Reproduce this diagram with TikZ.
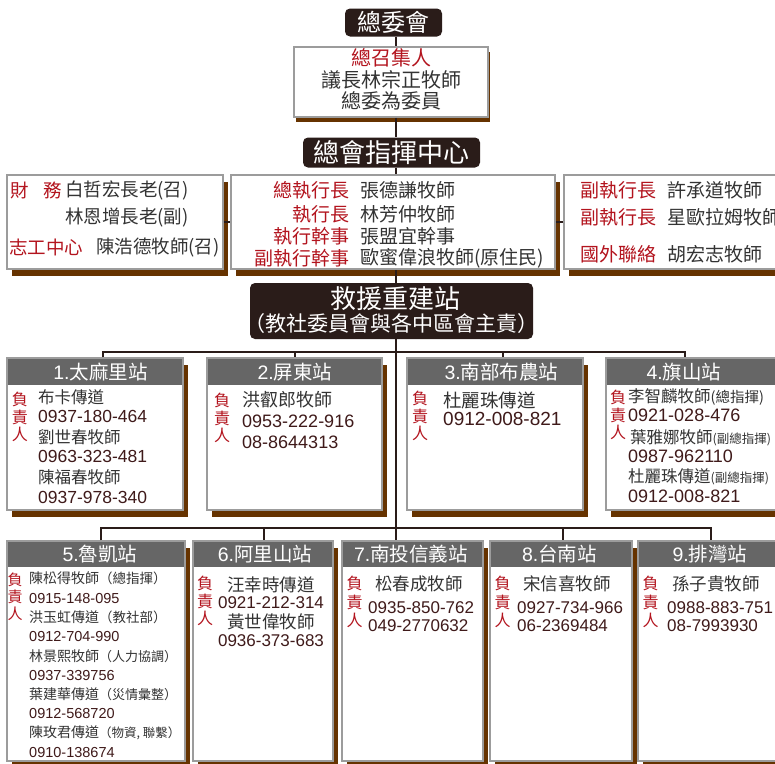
\documentclass[tikz,border=0pt]{standalone}
\usepackage{fontspec}
\setmainfont{Noto Sans CJK TC}
\newfontfamily\numfont{Liberation Sans}
\usetikzlibrary{shadows}
\definecolor{darkfill}{HTML}{2A1C19}
\definecolor{headgray}{HTML}{666666}
\definecolor{shadowbrown}{HTML}{663300}
\definecolor{boxline}{HTML}{9C9C9C}
\definecolor{labred}{HTML}{B3141E}
\definecolor{nametext}{HTML}{333333}
\definecolor{numtext}{HTML}{3F1A1A}
\newcommand{\fsz}[1]{\fontsize{#1}{#1}\selectfont}
\tikzstyle{titlebox}=[rectangle,fill=darkfill,text=white,rounded corners=5pt,inner sep=0pt]
\tikzstyle{infobox}=[rectangle,draw=boxline,fill=white,line width=1.5pt,inner sep=0pt,general shadow={fill=shadowbrown,shadow xshift=5pt,shadow yshift=-7pt}]
\tikzstyle{topbox}=[rectangle,draw=boxline,fill=white,line width=1.5pt,inner sep=0pt,general shadow={fill=shadowbrown,shadow xshift=2pt,shadow yshift=-5pt}]
\tikzstyle{headband}=[rectangle,fill=headgray,inner sep=0pt,minimum height=26pt]
\tikzstyle{headtext}=[text=white,inner sep=0pt,font=\fsz{19.5}]
\tikzstyle{conn}=[draw=darkfill,line width=2.6pt]
\tikzstyle{redtxt}=[text=labred,inner sep=0pt]
\tikzstyle{nametxt}=[text=nametext,inner sep=0pt,anchor=west]
\tikzstyle{phonetxt}=[text=numtext,inner sep=0pt,anchor=west]
\tikzstyle{leadtxt}=[text=labred,inner sep=0pt,align=center,font=\fontsize{16}{17.5}\selectfont]

\begin{document}
\begin{tikzpicture}[x=1pt,y=-1pt]
	\useasboundingbox (0,0) rectangle (775,763);
	\clip (0,0) rectangle (775,763);
	\fill[white] (0,0) rectangle (775,763);
	\coordinate (tk) at (396,0);

	% top of the tree
	\node[titlebox,minimum width=97pt,minimum height=28pt,font=\fsz{24}] (zwh) at (393.5,22.5) {總委會};
	\node[topbox,minimum width=194pt,minimum height=70pt] (zcj) at (391,82) {};
	\node[text=nametext,inner sep=0pt,align=center,font=\fontsize{20}{21.5}\selectfont] (zcjt) at (391,79.5)
		{{\color{labred}總召集人}\\議長林宗正牧師\\總委為委員};
	\node[titlebox,minimum width=177pt,minimum height=30pt,font=\fsz{26}] (zhq) at (391.5,152.5) {總會指揮中心};

	% command centre
	\node[infobox,minimum width=216pt,minimum height=94pt] (lft) at (115,222) {};
	\node[infobox,minimum width=324pt,minimum height=94pt] (mid) at (393,222) {};
	\node[infobox,minimum width=224pt,minimum height=94pt] (rgt) at (676,222) {};

	\node[redtxt,anchor=west,font=\fsz{18.5}] (cw) at (10,190) {財\hspace{.8em}務};
	\node[nametxt,font=\fsz{18.5}] (cw1) at (65,190) {白哲宏長老(召)};
	\node[nametxt,font=\fsz{18.5}] (cw2) at (65,218) {林恩增長老(副)};
	\node[redtxt,anchor=west,font=\fsz{18.5}] (zg) at (9,247.5) {志工中心};
	\node[nametxt,font=\fsz{18.5}] (zg1) at (96,247.5) {陳浩德牧師(召)};

	\node[redtxt,anchor=east,font=\fsz{19}] (m1) at (350,190.5) {總執行長};
	\node[redtxt,anchor=east,font=\fsz{19}] (m2) at (350,214.5) {執行長};
	\node[redtxt,anchor=east,font=\fsz{19}] (m3) at (350,236.5) {執行幹事};
	\node[redtxt,anchor=east,font=\fsz{19}] (m4) at (350,258.5) {副執行幹事};
	\node[nametxt,font=\fsz{19}] (m1n) at (360,190.5) {張德謙牧師};
	\node[nametxt,font=\fsz{19}] (m2n) at (360,214.5) {林芳仲牧師};
	\node[nametxt,font=\fsz{19}] (m3n) at (360,236.5) {張盟宜幹事};
	\node[nametxt,font=\fsz{19}] (m4n) at (360,258.5) {歐蜜偉浪牧師(原住民)};

	\node[redtxt,anchor=west,font=\fsz{19}] (q1) at (580,190.5) {副執行長};
	\node[redtxt,anchor=west,font=\fsz{19}] (q2) at (580,217.5) {副執行長};
	\node[redtxt,anchor=west,font=\fsz{19}] (q3) at (580,254.5) {國外聯絡};
	\node[nametxt,font=\fsz{19}] (q1n) at (667,190.5) {許承道牧師};
	\node[nametxt,font=\fsz{19}] (q2n) at (667,217.5) {星歐拉姆牧師};
	\node[nametxt,font=\fsz{19}] (q3n) at (667,254.5) {胡宏志牧師};

	% rescue stations
	\node[titlebox,minimum width=283pt,minimum height=56pt] (jy) at (391.5,311) {};
	\node[text=white,inner sep=0pt,font=\fsz{26}] (jyt) at (395,299) {救援重建站};
	\node[text=white,inner sep=0pt,font=\fsz{21}] (jys) at (391,324) {（教社委員會與各中區會主責）};

	\node[infobox,minimum width=176pt,minimum height=152pt] (st1) at (95,434) {};
	\node[infobox,minimum width=175pt,minimum height=152pt] (st2) at (294.5,434) {};
	\node[infobox,minimum width=176pt,minimum height=152pt] (st3) at (495,434) {};
	\node[infobox,minimum width=176pt,minimum height=152pt] (st4) at (694,434) {};
	\node[headband,minimum width=174.5pt] (h1) at (95,371.75) {};
	\node[headband,minimum width=173.5pt] (h2) at (294.5,371.75) {};
	\node[headband,minimum width=174.5pt] (h3) at (495,371.75) {};
	\node[headband,minimum width=174.5pt] (h4) at (694,371.75) {};
	\node[headtext] (h1l) at (100.5,372) {{\numfont 1.}太麻里站};
	\node[headtext] (h2l) at (295,372) {{\numfont 2.}屏東站};
	\node[headtext] (h3l) at (501.5,372) {{\numfont 3.}南部布農站};
	\node[headtext] (h4l) at (684,372) {{\numfont 4.}旗山站};

	\node[leadtxt] (r1) at (20,417) {負\\責\\人};
	\node[nametxt,font=\fsz{16.5}] (p11) at (38,397) {布卡傳道};
	\node[phonetxt,font=\numfont\fsz{17.5}] (p12) at (38,416) {0937-180-464};
	\node[nametxt,font=\fsz{16.5}] (p13) at (38,437) {劉世春牧師};
	\node[phonetxt,font=\numfont\fsz{17.5}] (p14) at (38,456) {0963-323-481};
	\node[nametxt,font=\fsz{16.5}] (p15) at (38,477) {陳福春牧師};
	\node[phonetxt,font=\numfont\fsz{17.5}] (p16) at (38,497) {0937-978-340};

	\node[leadtxt] (r2) at (222,418) {負\\責\\人};
	\node[nametxt,font=\fsz{18}] (p21) at (242,400) {洪叡郎牧師};
	\node[phonetxt,font=\numfont\fsz{18}] (p22) at (242,421) {0953-222-916};
	\node[phonetxt,font=\numfont\fsz{18}] (p23) at (242,442) {08-8644313};

	\node[leadtxt] (r3) at (420,416) {負\\責\\人};
	\node[nametxt,font=\fsz{18.5}] (p31) at (443,400) {杜麗珠傳道};
	\node[phonetxt,font=\numfont\fsz{19}] (p32) at (443,419) {0912-008-821};

	\node[leadtxt] (r4) at (618,415) {負\\責\\人};
	\node[nametxt,font=\fsz{16.5}] (p41) at (628,397) {李智麟牧師{\fsz{14.5}(總指揮)}};
	\node[phonetxt,font=\numfont\fsz{18}] (p42) at (628,415) {0921-028-476};
	\node[nametxt,font=\fsz{16.5}] (p43) at (630,438) {葉雅娜牧師{\fsz{12.5}(副總指揮)}};
	\node[phonetxt,font=\numfont\fsz{18}] (p44) at (628,456) {0987-962110};
	\node[nametxt,font=\fsz{16.5}] (p45) at (628,477) {杜麗珠傳道{\fsz{12.5}(副總指揮)}};
	\node[phonetxt,font=\numfont\fsz{18}] (p46) at (628,496) {0912-008-821};

	\node[infobox,minimum width=178pt,minimum height=220pt] (st5) at (96,651) {};
	\node[infobox,minimum width=140pt,minimum height=220pt] (st6) at (263,651) {};
	\node[infobox,minimum width=141pt,minimum height=220pt] (st7) at (412.5,651) {};
	\node[infobox,minimum width=142pt,minimum height=220pt] (st8) at (561,651) {};
	\node[infobox,minimum width=142pt,minimum height=220pt] (st9) at (709,651) {};
	\node[headband,minimum width=176.5pt,minimum height=25pt] (h5) at (96,554.25) {};
	\node[headband,minimum width=138.5pt,minimum height=25pt] (h6) at (263,554.25) {};
	\node[headband,minimum width=139.5pt,minimum height=25pt] (h7) at (412.5,554.25) {};
	\node[headband,minimum width=140.5pt,minimum height=25pt] (h8) at (561,554.25) {};
	\node[headband,minimum width=140.5pt,minimum height=25pt] (h9) at (709,554.25) {};
	\node[headtext] (h5l) at (100,554.5) {{\numfont 5.}魯凱站};
	\node[headtext] (h6l) at (265,554.5) {{\numfont 6.}阿里山站};
	\node[headtext] (h7l) at (411,554.5) {{\numfont 7.}南投信義站};
	\node[headtext] (h8l) at (559.5,554.5) {{\numfont 8.}台南站};
	\node[headtext] (h9l) at (710,554.5) {{\numfont 9.}排灣站};

	\node[leadtxt,font=\fontsize{15}{17}\selectfont] (r5) at (15,597) {負\\責\\人};
	\node[nametxt,font=\fsz{14}] (p51) at (29,578) {陳松得牧師{\fsz{13.5}（總指揮）}};
	\node[phonetxt,font=\numfont\fsz{14.5}] (p52) at (29,598) {0915-148-095};
	\node[nametxt,font=\fsz{14}] (p53) at (29,617) {洪玉虹傳道{\fsz{13.5}（教社部）}};
	\node[phonetxt,font=\numfont\fsz{14.5}] (p54) at (29,636) {0912-704-990};
	\node[nametxt,font=\fsz{14}] (p55) at (29,656) {林景熙牧師{\fsz{13}（人力協調）}};
	\node[phonetxt,font=\numfont\fsz{14.5}] (p56) at (29,675) {0937-339756};
	\node[nametxt,font=\fsz{14}] (p57) at (29,694) {葉建華傳道{\fsz{13}（災情彙整）}};
	\node[phonetxt,font=\numfont\fsz{14.5}] (p58) at (29,713) {0912-568720};
	\node[nametxt,font=\fsz{14}] (p59) at (29,733) {陳玫君傳道{\fsz{12.5}（物資, 聯繫）}};
	\node[phonetxt,font=\numfont\fsz{14.5}] (p50) at (29,752) {0910-138674};

	\node[leadtxt] (r6) at (205,601) {負\\責\\人};
	\node[text=nametext,inner sep=0pt,font=\fsz{17.5}] (p61) at (271,585) {汪幸時傳道};
	\node[text=numtext,inner sep=0pt,font=\numfont\fsz{17}] (p62) at (271,603) {0921-212-314};
	\node[text=nametext,inner sep=0pt,font=\fsz{17.5}] (p63) at (271,622) {黃世偉牧師};
	\node[text=numtext,inner sep=0pt,font=\numfont\fsz{17}] (p64) at (271,641) {0936-373-683};

	\node[leadtxt,font=\fontsize{16}{18.5}\selectfont] (r7) at (354.5,602) {負\\責\\人};
	\node[nametxt,font=\fsz{17.5}] (p71) at (375,584) {松春成牧師};
	\node[phonetxt,font=\numfont\fsz{17}] (p72) at (368,608) {0935-850-762};
	\node[phonetxt,font=\numfont\fsz{17}] (p73) at (368,626) {049-2770632};

	\node[leadtxt,font=\fontsize{16}{18.5}\selectfont] (r8) at (502.5,602) {負\\責\\人};
	\node[nametxt,font=\fsz{17.5}] (p81) at (523,584) {宋信喜牧師};
	\node[phonetxt,font=\numfont\fsz{17}] (p82) at (517,608) {0927-734-966};
	\node[phonetxt,font=\numfont\fsz{17}] (p83) at (517,626) {06-2369484};

	\node[leadtxt,font=\fontsize{16}{18.5}\selectfont] (r9) at (650.5,602) {負\\責\\人};
	\node[nametxt,font=\fsz{17.5}] (p91) at (672,584) {孫子貴牧師};
	\node[phonetxt,font=\numfont\fsz{17}] (p92) at (667,608) {0988-883-751};
	\node[phonetxt,font=\numfont\fsz{17}] (p93) at (667,626) {08-7993930};

	% connectors
	\coordinate (b1) at (103,352);
	\coordinate (b2) at (295,352);
	\coordinate (b3) at (503,352);
	\coordinate (b4) at (685,352);
	\coordinate (c5) at (101,528);
	\coordinate (c6) at (264,528);
	\coordinate (c7) at (396,528);
	\coordinate (c8) at (563,528);
	\coordinate (c9) at (711,528);

	\draw[conn] (zwh.south -| tk) -- (zcj.north -| tk);
	\draw[conn] (zcj.south -| tk) -- (zhq.north -| tk);
	\draw[conn] (zhq.south -| tk) -- (mid.north -| tk);
	\draw[conn] (lft.east) -- (mid.west);
	\draw[conn] (mid.east) -- (rgt.west);
	\draw[conn] (mid.south -| tk) -- (jy.north -| tk);
	\draw[conn] (jy.south -| tk) -- (c7) -- (st7.north -| c7);
	\draw[conn] (b1 |- st1.north) -- (b1) -- (b4) -- (b4 |- st4.north);
	\draw[conn] (b2) -- (b2 |- st2.north);
	\draw[conn] (b3) -- (b3 |- st3.north);
	\draw[conn] (c5 |- st5.north) -- (c5) -- (c9) -- (c9 |- st9.north);
	\draw[conn] (c6) -- (c6 |- st6.north);
	\draw[conn] (c8) -- (c8 |- st8.north);
\end{tikzpicture}
\end{document}
